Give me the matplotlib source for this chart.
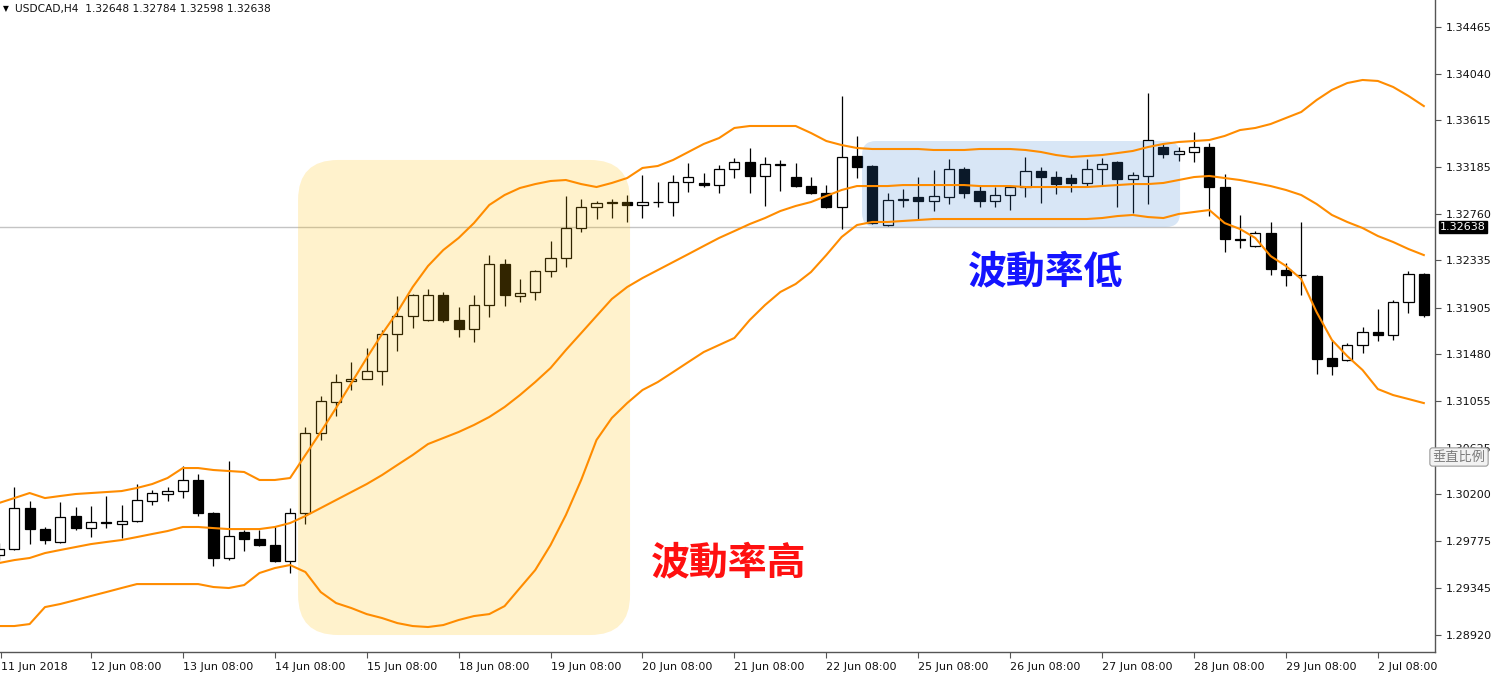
import numpy as np
import matplotlib.pyplot as plt
import matplotlib.transforms as mtransforms
from matplotlib.patches import FancyBboxPatch

# Data USDCAD H4
date_labels = ["11 Jun 2018", "12 Jun 08:00", "13 Jun 08:00", "14 Jun 08:00", "15 Jun 08:00",
               "18 Jun 08:00", "19 Jun 08:00", "20 Jun 08:00", "21 Jun 08:00", "22 Jun 08:00",
               "25 Jun 08:00", "26 Jun 08:00", "27 Jun 08:00", "28 Jun 08:00", "29 Jun 08:00",
               "2 Jul 08:00"]

opens = [1.29646, 1.29701, 1.30075, 1.29883, 1.29765, 1.30002, 1.29892, 1.29947, 1.29929, 1.29956,
         1.30139, 1.30203, 1.30230, 1.30331, 1.30029, 1.29619, 1.29856, 1.29792, 1.29738, 1.29592,
         1.30029, 1.30759, 1.31043, 1.31234, 1.31253, 1.31325, 1.31663, 1.31828, 1.31791, 1.32019,
         1.31791, 1.31709, 1.31928, 1.32302, 1.32011, 1.32047, 1.32238, 1.32357, 1.32630, 1.32822,
         1.32863, 1.32868, 1.32840, 1.32868, 1.32868, 1.33051, 1.33042, 1.33023, 1.33170, 1.33233,
         1.33106, 1.33215, 1.33096, 1.33014, 1.32950, 1.32822, 1.33288, 1.33197, 1.32658, 1.32890,
         1.32913, 1.32877, 1.32913, 1.33170, 1.32969, 1.32877, 1.32932, 1.33005, 1.33151, 1.33096,
         1.33087, 1.33042, 1.33170, 1.33233, 1.33078, 1.33106, 1.33370, 1.33307, 1.33325, 1.33370,
         1.33005, 1.32530, 1.32467, 1.32585, 1.32248, 1.32202, 1.32193, 1.31444, 1.31426, 1.31563,
         1.31682, 1.31655, 1.31956, 1.32211]

highs = [1.29756, 1.30266, 1.30139, 1.29902, 1.30130, 1.30084, 1.30093, 1.30185, 1.30102, 1.30294,
         1.30239, 1.30266, 1.30458, 1.30385, 1.30035, 1.30504, 1.29874, 1.29874, 1.29911, 1.30075,
         1.30814, 1.31097, 1.31298, 1.31407, 1.31535, 1.31700, 1.32011, 1.32025, 1.32074, 1.32047,
         1.31910, 1.32019, 1.32384, 1.32348, 1.32166, 1.32247, 1.32512, 1.32923, 1.32895, 1.32877,
         1.32895, 1.32932, 1.33115, 1.33051, 1.33115, 1.33224, 1.33133, 1.33206, 1.33270, 1.33361,
         1.33279, 1.33252, 1.33224, 1.33096, 1.33023, 1.33836, 1.33471, 1.33206, 1.32950, 1.32987,
         1.33096, 1.33160, 1.33261, 1.33188, 1.33014, 1.33005, 1.33014, 1.33279, 1.33188, 1.33151,
         1.33124, 1.33261, 1.33270, 1.33242, 1.33142, 1.33863, 1.33407, 1.33370, 1.33507, 1.33407,
         1.33124, 1.32749, 1.32604, 1.32685, 1.32311, 1.32685, 1.32200, 1.31608, 1.31581, 1.31727,
         1.31892, 1.31974, 1.32239, 1.32220]

lows = [1.29601, 1.29695, 1.29747, 1.29747, 1.29760, 1.29874, 1.29810, 1.29892, 1.29801, 1.29950,
        1.30102, 1.30139, 1.30166, 1.30002, 1.29546, 1.29601, 1.29683, 1.29730, 1.29585, 1.29482,
        1.29929, 1.30695, 1.30915, 1.31152, 1.31250, 1.31198, 1.31508, 1.31718, 1.31785, 1.31773,
        1.31636, 1.31590, 1.31819, 1.31919, 1.31956, 1.31974, 1.32184, 1.32275, 1.32594, 1.32713,
        1.32722, 1.32685, 1.32722, 1.32822, 1.32740, 1.32959, 1.33005, 1.32950, 1.33087, 1.32950,
        1.32831, 1.32969, 1.33005, 1.32945, 1.32815, 1.32621, 1.33087, 1.32670, 1.32652, 1.32822,
        1.32703, 1.32786, 1.32849, 1.32904, 1.32822, 1.32822, 1.32796, 1.32913, 1.32859, 1.32941,
        1.32959, 1.33005, 1.33014, 1.32822, 1.32768, 1.32849, 1.33270, 1.33242, 1.33233, 1.32740,
        1.32412, 1.32448, 1.32460, 1.32202, 1.32101, 1.32020, 1.31298, 1.31289, 1.31420, 1.31490,
        1.31599, 1.31608, 1.31853, 1.31817]

closes = [1.29701, 1.30075, 1.29883, 1.29783, 1.29993, 1.29892, 1.29947, 1.29938, 1.29956, 1.30148,
          1.30212, 1.30230, 1.30331, 1.30029, 1.29619, 1.29820, 1.29792, 1.29738, 1.29592, 1.30029,
          1.30759, 1.31052, 1.31225, 1.31253, 1.31325, 1.31663, 1.31828, 1.32019, 1.32019, 1.31791,
          1.31709, 1.31928, 1.32302, 1.32019, 1.32038, 1.32238, 1.32357, 1.32630, 1.32822, 1.32859,
          1.32866, 1.32840, 1.32868, 1.32866, 1.33051, 1.33096, 1.33023, 1.33170, 1.33233, 1.33106,
          1.33215, 1.33210, 1.33014, 1.32950, 1.32822, 1.33279, 1.33188, 1.32676, 1.32886, 1.32893,
          1.32877, 1.32923, 1.33170, 1.32950, 1.32877, 1.32932, 1.33005, 1.33151, 1.33096, 1.33032,
          1.33042, 1.33170, 1.33215, 1.33078, 1.33115, 1.33434, 1.33307, 1.33334, 1.33370, 1.33005,
          1.32530, 1.32526, 1.32585, 1.32257, 1.32202, 1.32205, 1.31435, 1.31371, 1.31563, 1.31682,
          1.31655, 1.31956, 1.32211, 1.31835]

# Bollinger Bands (atas, tengah, bawah)
bb_upper = [1.30121, 1.30166, 1.30212, 1.30166, 1.30185, 1.30203, 1.30212, 1.30221, 1.30230, 1.30258,
            1.30294, 1.30349, 1.30440, 1.30440, 1.30422, 1.30413, 1.30404, 1.30331, 1.30331, 1.30349,
            1.30559, 1.30769, 1.30988, 1.31216, 1.31444, 1.31663, 1.31864, 1.32092, 1.32284, 1.32430,
            1.32540, 1.32676, 1.32841, 1.32932, 1.32996, 1.33032, 1.33060, 1.33069, 1.33032, 1.33005,
            1.33042, 1.33087, 1.33179, 1.33197, 1.33252, 1.33325, 1.33398, 1.33452, 1.33544, 1.33562,
            1.33562, 1.33562, 1.33562, 1.33498, 1.33425, 1.33388, 1.33361, 1.33352, 1.33352, 1.33352,
            1.33352, 1.33343, 1.33343, 1.33343, 1.33352, 1.33352, 1.33352, 1.33343, 1.33325, 1.33297,
            1.33279, 1.33288, 1.33297, 1.33315, 1.33334, 1.33370, 1.33398, 1.33416, 1.33425, 1.33434,
            1.33471, 1.33525, 1.33544, 1.33580, 1.33635, 1.33690, 1.33799, 1.33891, 1.33954, 1.33982,
            1.33973, 1.33918, 1.33836, 1.33744]

bb_middle = [1.29573, 1.29600, 1.29619, 1.29664, 1.29692, 1.29719, 1.29746, 1.29765, 1.29783, 1.29810,
             1.29838, 1.29865, 1.29902, 1.29902, 1.29892, 1.29883, 1.29883, 1.29883, 1.29902, 1.29938,
             1.30002, 1.30075, 1.30148, 1.30221, 1.30294, 1.30376, 1.30468, 1.30559, 1.30659, 1.30714,
             1.30769, 1.30833, 1.30906, 1.30997, 1.31106, 1.31225, 1.31353, 1.31517, 1.31672, 1.31828,
             1.31983, 1.32092, 1.32174, 1.32247, 1.32320, 1.32393, 1.32467, 1.32540, 1.32603, 1.32667,
             1.32722, 1.32786, 1.32832, 1.32868, 1.32923, 1.32978, 1.33014, 1.33014, 1.33014, 1.33023,
             1.33023, 1.33023, 1.33023, 1.33023, 1.33014, 1.33014, 1.33014, 1.33005, 1.33005, 1.33005,
             1.33005, 1.33005, 1.33014, 1.33023, 1.33032, 1.33032, 1.33042, 1.33069, 1.33096, 1.33106,
             1.33087, 1.33069, 1.33042, 1.33014, 1.32978, 1.32932, 1.32850, 1.32750, 1.32686, 1.32631,
             1.32558, 1.32503, 1.32439, 1.32384]

bb_lower = [1.28998, 1.28998, 1.29016, 1.29171, 1.29199, 1.29235, 1.29272, 1.29308, 1.29345, 1.29381,
            1.29381, 1.29381, 1.29381, 1.29381, 1.29354, 1.29345, 1.29372, 1.29482, 1.29527, 1.29555,
            1.29491, 1.29308, 1.29208, 1.29162, 1.29107, 1.29071, 1.29025, 1.28998, 1.28989, 1.29007,
            1.29053, 1.29089, 1.29107, 1.29180, 1.29345, 1.29509, 1.29737, 1.30011, 1.30331, 1.30696,
            1.30897, 1.31033, 1.31152, 1.31225, 1.31316, 1.31408, 1.31499, 1.31563, 1.31627, 1.31791,
            1.31928, 1.32047, 1.32120, 1.32229, 1.32384, 1.32549, 1.32658, 1.32686, 1.32686, 1.32695,
            1.32704, 1.32713, 1.32713, 1.32713, 1.32713, 1.32713, 1.32713, 1.32713, 1.32713, 1.32713,
            1.32713, 1.32713, 1.32722, 1.32740, 1.32750, 1.32731, 1.32722, 1.32759, 1.32777, 1.32795,
            1.32676, 1.32622, 1.32540, 1.32375, 1.32284, 1.32165, 1.31864, 1.31609, 1.31462, 1.31335,
            1.31161, 1.31106, 1.31070, 1.31033]

ytick_vals = [1.34465, 1.34040, 1.33615, 1.33185, 1.32760, 1.32335, 1.31905, 1.31480,
              1.31055, 1.30625, 1.30200, 1.29775, 1.29345, 1.28920]
last_price = 1.32638

o = np.array(opens)
h = np.array(highs)
l = np.array(lows)
c = np.array(closes)
x = np.arange(len(o))

W, H = 1495, 676
fig = plt.figure(figsize=(W / 100, H / 100), dpi=100)
ax = fig.add_axes([0, 24 / H, 1435 / W, 652 / H])
ax.set_xlim(0.065, 93.73)
ax.set_ylim(1.28761, 1.34712)

# garis harga terakhir
ax.axhline(last_price, color="#c4c4c4", linewidth=1, zorder=1)

# candlestick
up = c >= o
ax.vlines(x, l, h, color="black", linewidth=0.9, zorder=2)
ax.bar(x[up], c[up] - o[up], bottom=o[up], width=0.66, color="white",
       edgecolor="black", linewidth=0.9, zorder=3)
ax.bar(x[~up], o[~up] - c[~up], bottom=c[~up], width=0.66, color="black",
       edgecolor="black", linewidth=0.9, zorder=3)

# kotak highlight (koordinat piksel supaya sudutnya bulat)
def round_box(x0, x1, y0, y1, r, color, alpha):
    px0, py0 = ax.transData.transform((x0, y0))
    px1, py1 = ax.transData.transform((x1, y1))
    box = FancyBboxPatch((px0, py0), px1 - px0, py1 - py0,
                         boxstyle=f"round,pad=0,rounding_size={r}",
                         transform=mtransforms.IdentityTransform(),
                         facecolor=color, edgecolor="none", alpha=alpha, zorder=4)
    ax.add_patch(box)

round_box(19.52, 41.19, 1.28916, 1.33252, 40, "#ffbe00", 0.2)
round_box(56.33, 77.09, 1.32640, 1.33425, 14, "#3c82d2", 0.2)

# Bollinger Bands
ax.plot(x, bb_upper, color="#ff8c00", linewidth=1.5, zorder=5)
ax.plot(x, bb_middle, color="#ff8c00", linewidth=1.5, zorder=5)
ax.plot(x, bb_lower, color="#ff8c00", linewidth=1.5, zorder=5)

cjk = ["Noto Sans CJK TC", "DejaVu Sans"]
ax.text(68.34, 1.32229, "波動率低", color="#1414ff", fontsize=28, fontweight="bold",
        ha="center", va="center", family=cjk, zorder=8)
ax.text(47.65, 1.29573, "波動率高", color="#ff1010", fontsize=28, fontweight="bold",
        ha="center", va="center", family=cjk, zorder=8)

# sumbu
for s in ["top", "left"]:
    ax.spines[s].set_visible(False)
for s in ["right", "bottom"]:
    ax.spines[s].set_color("#555555")
    ax.spines[s].set_linewidth(1)

ax.yaxis.tick_right()
ax.set_yticks(ytick_vals)
ax.set_yticklabels([f"{v:.5f}" for v in ytick_vals])
ax.tick_params(axis="y", direction="out", length=4, width=0.8, color="#555555",
               labelsize=8, labelcolor="#111111", pad=4)

xt = [0.1] + list(range(6, 94, 6))
ax.set_xticks(xt)
ax.set_xticklabels(date_labels)
ax.tick_params(axis="x", direction="out", length=4, width=0.8, color="#555555",
               labelsize=8, labelcolor="#111111", pad=3)
for lab in ax.get_xticklabels():
    lab.set_ha("left")

# label harga terakhir di kanan
blend = mtransforms.blended_transform_factory(ax.transAxes, ax.transData)
ax.text(1 + 5 / 1435, last_price, f"{last_price:.5f}", transform=blend, ha="left",
        va="center", color="white", fontsize=8, clip_on=False, zorder=10,
        bbox=dict(boxstyle="square,pad=0.1", facecolor="black", edgecolor="black"))

# judul kiri atas
fig.text(3 / W, 1 - 9 / H, "▼", fontsize=5.5, va="center", ha="left", color="black")
fig.text(15 / W, 1 - 9 / H, "USDCAD,H4  1.32648 1.32784 1.32598 1.32638",
         fontsize=7.7, va="center", ha="left", color="#111111")

# tombol skala vertikal (menutupi sebagian label 1.30625 seperti aslinya)
fig.text(1459 / W, 1 - 457 / H, "垂直比例", ha="center", va="center", fontsize=9.5,
         color="#7a7a7a", family=cjk, zorder=10,
         bbox=dict(boxstyle="round,pad=0.2,rounding_size=0.2", facecolor="#f2f2f2",
                   edgecolor="#9a9a9a", linewidth=0.8))

fig.savefig("out.png", dpi=100)
